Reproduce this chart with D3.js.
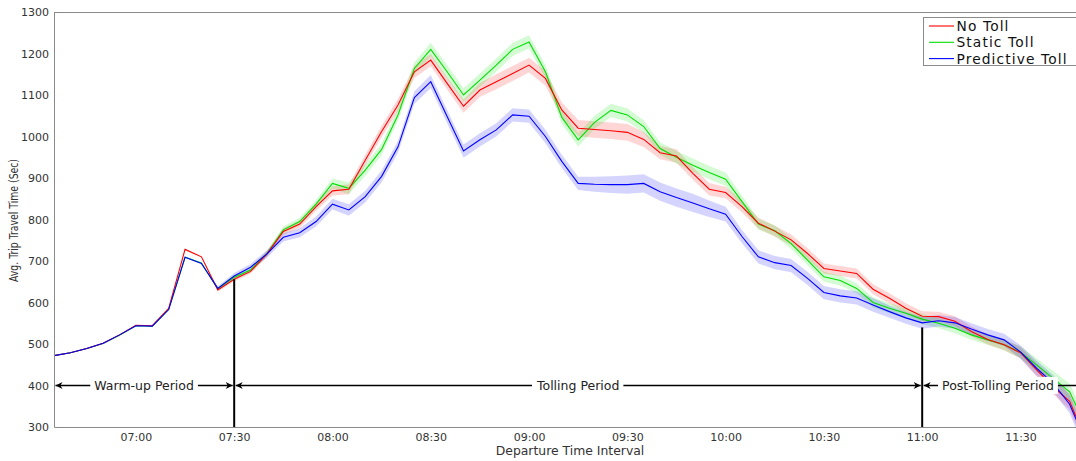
<!DOCTYPE html>
<html>
<head>
<meta charset="utf-8">
<script src="https://cdn.jsdelivr.net/npm/d3@7"></script>
<style>
  html, body { margin: 0; padding: 0; background: #fff; }
  svg { display: block; }
  text { font-family: "DejaVu Sans", sans-serif; }
</style>
</head>
<body>
<svg id="chart" width="1076" height="461"></svg>
<script>
// ---------------- DATA ----------------
const times = ["06:35","06:40","06:45","06:50","06:55","07:00","07:05","07:10","07:15","07:20",
  "07:25","07:30","07:35","07:40","07:45","07:50","07:55","08:00","08:05","08:10",
  "08:15","08:20","08:25","08:30","08:35","08:40","08:45","08:50","08:55","09:00",
  "09:05","09:10","09:15","09:20","09:25","09:30","09:35","09:40","09:45","09:50",
  "09:55","10:00","10:05","10:10","10:15","10:20","10:25","10:30","10:35","10:40",
  "10:45","10:50","10:55","11:00","11:05","11:10","11:15","11:20","11:25","11:30",
  "11:35","11:40","11:45","11:50"];

const noToll = [472,479,489,502,522,545,544,586,728,710,
  630,656,675,717,771,789,831,869,873,943,
  1012,1076,1156,1184,1128,1073,1112,1132,1152,1172,
  1140,1064,1020,1017,1014,1010,993,961,953,911,
  873,865,831,791,772,751,718,682,676,670,
  632,610,586,567,566,555,530,511,498,479,
  437,397,362,268];

const staticToll = [472,479,489,501,521,544,543,583,709,695,
  633,661,678,718,775,795,837,887,875,919,
  969,1052,1164,1210,1156,1100,1136,1172,1210,1228,
  1156,1046,992,1034,1063,1052,1024,971,950,931,
  913,897,843,789,773,742,702,662,653,634,
  600,586,574,560,550,538,522,510,498,480,
  449,417,385,300];

const predictiveToll = [472,479,489,502,522,544,543,583,709,694,
  634,664,685,717,757,768,795,837,823,855,
  904,975,1094,1132,1048,965,992,1016,1052,1049,
  1000,940,887,885,884,884,887,867,853,840,
  826,813,759,710,696,689,658,624,616,611,
  594,578,563,551,556,551,536,522,510,481,
  441,405,355,262];

// half-width of shaded band around each series
const noTollErr = [0,0,0,0,0,0,0,0,0,0,
  4,5,6,7,8,9,10,11,12,13,
  14,15,15,15,15,16,17,18,18,18,
  18,18,20,20,20,20,18,16,16,15,
  15,14,14,13,13,13,13,12,12,12,
  12,12,12,12,12,12,12,12,13,14,
  16,18,20,22];
const staticTollErr = [0,0,0,0,0,0,0,0,0,0,
  4,5,6,7,8,9,10,12,14,14,
  14,14,15,16,16,16,16,16,16,16,
  16,16,16,16,16,16,15,15,15,16,
  16,16,14,13,13,13,12,12,12,12,
  12,12,12,12,12,12,12,12,13,14,
  16,18,20,22];
const predictiveTollErr = [0,0,0,0,0,0,0,0,0,0,
  5,7,8,9,10,11,12,13,14,14,
  14,14,15,16,16,16,16,16,16,16,
  16,16,16,18,20,22,22,22,22,22,
  20,18,16,16,16,16,16,16,16,16,
  16,15,14,14,14,14,14,14,15,16,
  18,20,22,24];

const seriesNames = ["No Toll","Static Toll","Predictive Toll"];
const seriesColors = ["#ff0000","#00e000","#0000ff"];
const bandColors = ["rgba(255,0,0,0.16)","rgba(0,230,0,0.17)","rgba(0,0,255,0.17)"];

const yTicks = [300,400,500,600,700,800,900,1000,1100,1200,1300];
const xTickLabels = ["07:00","07:30","08:00","08:30","09:00","09:30","10:00","10:30","11:00","11:30"];

// period annotations
const periodNames = ["Warm-up Period","Tolling Period","Post-Tolling Period"];
const periodStarts = ["06:35","07:30","11:00"];
const periodEnds = ["07:30","11:00","11:55"];
const periodLevel = 400;
const boundaryTimes = ["07:30","11:00"];
const boundaryTops = [656, 540];

// ---------------- CHART ----------------
(function () {
const parse = d3.timeParse("%H:%M");
const svg = d3.select("#chart");
const W = 1076, H = 461;
const pLeft = 54, pTop = 12, pBottom = 427;

const x = d3.scaleTime()
  .domain([parse("06:35"), parse("11:50")])
  .range([54, 1086]);
const y = d3.scaleLinear().domain([300, 1300]).range([pBottom, pTop]);

const defs = svg.append("defs");
defs.append("clipPath").attr("id", "plotclip")
  .append("rect").attr("x", pLeft).attr("y", pTop).attr("width", W - pLeft).attr("height", pBottom - pTop);

const m = defs.append("marker").attr("id", "arrow")
  .attr("viewBox", "0 0 10 10").attr("refX", 10).attr("refY", 5)
  .attr("markerWidth", 9).attr("markerHeight", 7).attr("markerUnits", "userSpaceOnUse")
  .attr("orient", "auto-start-reverse");
m.append("path").attr("d", "M0,0 L10,5 L0,10 L3,5 Z").attr("fill", "#000");

const seriesData = [noToll, staticToll, predictiveToll];
const errData = [noTollErr, staticTollErr, predictiveTollErr];
const tparsed = times.map(parse);

const plot = svg.append("g").attr("clip-path", "url(#plotclip)");

// bands
seriesData.forEach((vals, si) => {
  const pts = vals.map((v, i) => ({t: tparsed[i], v, e: errData[si][i]}));
  const area = d3.area().x(d => x(d.t)).y0(d => y(d.v - d.e)).y1(d => y(d.v + d.e));
  plot.append("path").datum(pts.filter((d, i) => i >= 9)).attr("d", area)
    .attr("fill", bandColors[si]).attr("stroke", "none");
});
// lines
const drawOrder = [1, 0, 2];
drawOrder.forEach(si => {
  const pts = seriesData[si].map((v, i) => ({t: tparsed[i], v}));
  const line = d3.line().x(d => x(d.t)).y(d => y(d.v));
  plot.append("path").datum(pts).attr("d", line)
    .attr("fill", "none").attr("stroke", seriesColors[si]).attr("stroke-width", 1.1);
});

// axes
const yAxis = svg.append("g").attr("transform", `translate(${pLeft},0)`)
  .call(d3.axisLeft(y).tickValues(yTicks).tickSize(0).tickPadding(5).tickFormat(d3.format("d")));
yAxis.select(".domain").attr("stroke", "#8a8a8a");
yAxis.selectAll("text").attr("font-size", 11).attr("fill", "#333").attr("font-family", "DejaVu Sans");

const xAxis = svg.append("g").attr("transform", `translate(0,${pBottom})`)
  .call(d3.axisBottom(x).tickValues(xTickLabels.map(parse)).tickSize(0).tickPadding(6)
    .tickFormat(d3.timeFormat("%H:%M")));
xAxis.select(".domain").attr("stroke", "#8a8a8a");
xAxis.selectAll("text").attr("font-size", 11).attr("fill", "#333").attr("font-family", "DejaVu Sans");

svg.append("line").attr("x1", pLeft).attr("x2", W).attr("y1", pTop + 0.5).attr("y2", pTop + 0.5)
  .attr("stroke", "#8a8a8a");

svg.append("text").attr("x", 570).attr("y", 455).attr("text-anchor", "middle")
  .attr("font-size", 12.4).attr("fill", "#333").text("Departure Time Interval");
svg.append("text").attr("transform", "translate(17.5,220.5) rotate(-90)")
  .attr("text-anchor", "middle").attr("font-size", 12.5)
  .attr("textLength", 123).attr("lengthAdjust", "spacingAndGlyphs")
  .attr("font-family", "Liberation Sans Narrow").attr("fill", "#333")
  .text("Avg. Trip Travel Time (Sec)");

// boundary lines
boundaryTimes.forEach((bt, i) => {
  svg.append("line").attr("x1", x(parse(bt))).attr("x2", x(parse(bt)))
    .attr("y1", y(boundaryTops[i])).attr("y2", pBottom)
    .attr("stroke", "#000").attr("stroke-width", 2);
});

// period arrows
const annot = svg.append("g").attr("clip-path", "url(#plotclip)");
periodNames.forEach((name, i) => {
  const x1 = x(parse(periodStarts[i])) + 1.5, x2 = x(parse(periodEnds[i])) - 1.5;
  const yy = y(periodLevel);
  annot.append("line").attr("x1", Math.max(x1, pLeft + 1)).attr("x2", x2).attr("y1", yy).attr("y2", yy)
    .attr("stroke", "#000").attr("stroke-width", 1.3)
    .attr("marker-start", "url(#arrow)").attr("marker-end", "url(#arrow)");
});
periodNames.forEach((name, i) => {
  const xs = Math.max(x(parse(periodStarts[i])), pLeft);
  const xe = Math.min(x(parse(periodEnds[i])), W);
  const cx = i === 2 ? 998 : (xs + xe) / 2;
  const yy = y(periodLevel);
  const t = svg.append("text").attr("x", cx).attr("y", yy).attr("dy", "0.35em")
    .attr("text-anchor", "middle").attr("font-size", 12.5).attr("fill", "#222").text(name);
  const bb = t.node().getBBox();
  svg.insert("rect", () => t.node()).attr("x", bb.x - 4).attr("y", bb.y - 1)
    .attr("width", bb.width + 8).attr("height", bb.height + 2).attr("fill", "#fff");
});

// legend
const lg = svg.append("g");
lg.append("rect").attr("x", 923.5).attr("y", 17.5).attr("width", 160).attr("height", 48)
  .attr("fill", "#fff").attr("stroke", "#8a8a8a");
seriesNames.forEach((n, i) => {
  const yy = 26 + i * 16.3;
  lg.append("line").attr("x1", 929).attr("x2", 954).attr("y1", yy).attr("y2", yy)
    .attr("stroke", seriesColors[i]).attr("stroke-width", 1.1);
  lg.append("text").attr("x", 956.5).attr("y", yy).attr("dy", "0.36em")
    .attr("font-size", 13.8).attr("letter-spacing", 1.1).attr("fill", "#111").text(n);
});
})();
</script>
</body>
</html>
